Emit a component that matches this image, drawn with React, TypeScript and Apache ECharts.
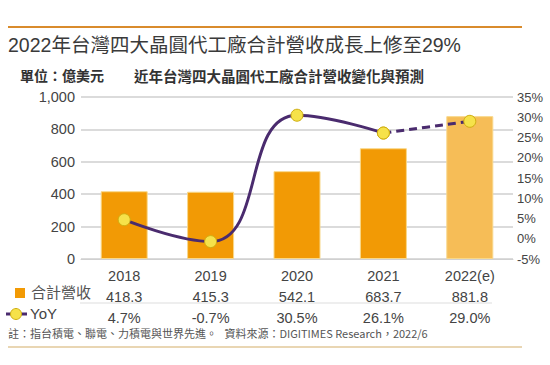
import React, { useEffect, useRef } from "react";
import * as echarts from "echarts";

const categories = ["2018", "2019", "2020", "2021", "2022(e)"];
const revenue = [418.3, 415.3, 542.1, 683.7, 881.8];
const yoy = [4.7, -0.7, 30.5, 26.1, 29.0];
const revenueLabels = ["418.3", "415.3", "542.1", "683.7", "881.8"];
const yoyLabels = ["4.7%", "-0.7%", "30.5%", "26.1%", "29.0%"];

const FONT = "'Liberation Sans', 'Noto Sans CJK TC', sans-serif";
const CJK = "'Noto Sans CJK TC', 'Liberation Sans', sans-serif";

export default function App() {
  const ref = useRef<HTMLDivElement>(null);
  useEffect(() => {
    if (!ref.current) return;
    const chart = echarts.init(ref.current, undefined, { renderer: "svg" });
    const n = categories.length;
    const solid = yoy.map((v, i) => (i <= n - 2 ? v : null));
    const dashed = yoy.map((v, i) => (i >= n - 2 ? v : null));
    const barData = revenue.map((v, i) => ({
      value: v,
      itemStyle: { color: i === n - 1 ? "#f6bd57" : "#f29a05" },
    }));
    chart.setOption({
      animation: false,
      backgroundColor: "#ffffff",
      textStyle: { fontFamily: FONT },
      grid: { left: 81, right: 37, top: 97, bottom: 106 },
      xAxis: {
        type: "category",
        data: categories,
        axisLine: { show: true, lineStyle: { color: "#d0d0d0" } },
        axisTick: { show: false },
        axisLabel: {
          interval: 0,
          margin: 6,
          formatter: (val: string, idx: number) =>
            `{c|${val}}\n{r|${revenueLabels[idx]}}\n{y|${yoyLabels[idx]}}`,
          rich: {
            c: { fontSize: 14.5, color: "#444", lineHeight: 21, fontFamily: FONT },
            r: { fontSize: 14.5, color: "#444", lineHeight: 21, fontFamily: FONT },
            y: { fontSize: 14.5, color: "#444", lineHeight: 21, fontFamily: FONT },
          },
        },
      },
      yAxis: [
        {
          type: "value",
          min: 0,
          max: 1000,
          interval: 200,
          axisLine: { show: false },
          axisTick: { show: false },
          splitLine: { show: true, lineStyle: { color: "#cfcfcf", width: 1.5 } },
          axisLabel: {
            fontSize: 14.5,
            color: "#444",
            margin: 6,
            formatter: (v: number) => v.toLocaleString("en-US"),
          },
        },
        {
          type: "value",
          min: -5,
          max: 35,
          interval: 5,
          position: "right",
          axisLine: { show: false },
          axisTick: { show: false },
          splitLine: { show: false },
          axisLabel: {
            fontSize: 13,
            color: "#444",
            margin: 4,
            formatter: (v: number) => `${v}%`,
          },
        },
      ],
      series: [
        {
          type: "bar",
          data: barData,
          barWidth: 47,
          itemStyle: { borderColor: "#f8d88a", borderWidth: 1 },
        },
        {
          type: "line",
          yAxisIndex: 1,
          data: solid,
          smooth: 0.5,
          symbol: "circle",
          symbolSize: 12,
          lineStyle: { color: "#4a2b6e", width: 3 },
          itemStyle: { color: "#f6e24a", borderColor: "#cfae10", borderWidth: 1 },
          z: 5,
        },
        {
          type: "line",
          yAxisIndex: 1,
          data: dashed,
          smooth: 0.3,
          symbol: "circle",
          symbolSize: 12,
          lineStyle: { color: "#4a2b6e", width: 3, type: [8, 5] },
          itemStyle: { color: "#f6e24a", borderColor: "#cfae10", borderWidth: 1 },
          z: 5,
        },
      ],
      graphic: [
        { type: "line", shape: { x1: 8, y1: 27, x2: 522, y2: 27 }, style: { stroke: "#d98b2c", lineWidth: 2 } },
        {
          type: "text", left: 8, top: 35,
          style: { text: "2022年台灣四大晶圓代工廠合計營收成長上修至29%", fontSize: 19.5, fill: "#3a3a3a", fontFamily: FONT },
        },
        {
          type: "text", left: 20, top: 68,
          style: { text: "單位：億美元", fontSize: 14, fontWeight: "bold", fill: "#333", fontFamily: CJK },
        },
        {
          type: "text", left: 134, top: 68,
          style: { text: "近年台灣四大晶圓代工廠合計營收變化與預測", fontSize: 14.5, fontWeight: "bold", fill: "#333", fontFamily: CJK },
        },
        { type: "rect", shape: { x: 15, y: 288, width: 10, height: 10 }, style: { fill: "#f29a05" } },
        {
          type: "text", left: 31, top: 284,
          style: { text: "合計營收", fontSize: 15, fill: "#555", fontFamily: CJK },
        },
        { type: "line", shape: { x1: 80, y1: 303, x2: 492, y2: 303 }, style: { stroke: "#dddddd", lineWidth: 1 } },
        { type: "line", shape: { x1: 6, y1: 314, x2: 27, y2: 314 }, style: { stroke: "#4a2b6e", lineWidth: 3 } },
        { type: "circle", shape: { cx: 16, cy: 314, r: 5.5 }, style: { fill: "#f6e24a", stroke: "#cfae10", lineWidth: 1 } },
        {
          type: "text", left: 30, top: 306,
          style: { text: "YoY", fontSize: 15, fill: "#444", fontFamily: FONT },
        },
        {
          type: "text", left: 8, top: 327,
          style: { text: "註：指台積電、聯電、力積電與世界先進。   資料來源：DIGITIMES Research，2022/6", fontSize: 11, fill: "#555", fontFamily: CJK },
        },
        { type: "line", shape: { x1: 8, y1: 347, x2: 522, y2: 347 }, style: { stroke: "#e2c99a", lineWidth: 1.5 } },
      ],
    });
    return () => chart.dispose();
  }, []);
  return <div ref={ref} style={{ width: 550, height: 365, position: "absolute", left: 0, top: 0 }} />;
}
